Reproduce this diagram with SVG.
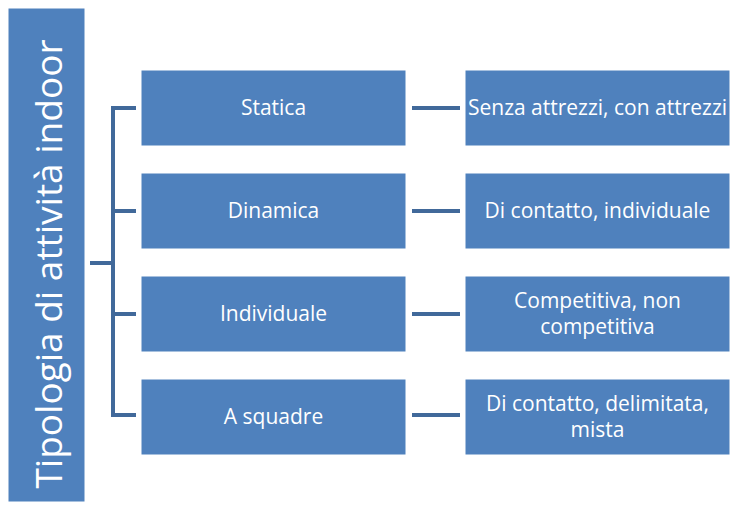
<svg xmlns="http://www.w3.org/2000/svg" width="733" height="515" viewBox="0 0 733 515">
<style>
.box{fill:#4f81bd;stroke:#ffffff;stroke-width:1}
.t{fill:#ffffff;font-family:"Open Sans","Liberation Sans",Arial,sans-serif;font-size:21px;text-anchor:middle;dominant-baseline:central}
.c{fill:none;stroke:#41699a;stroke-width:4}
</style>
<rect width="733" height="515" fill="#ffffff"/>
<g id="root">
<rect class="box" x="8" y="8" width="77" height="494"/>
<text class="t" transform="translate(47,264) rotate(-90)" style="font-size:37px">Tipologia di attività indoor</text>
</g>
<g id="connectors">
<path class="c" d="M90,263 H113 M136,108 H113 V415 H136 M113,211 H136 M113,314 H136"/>
<path class="c" d="M412,108 H460 M412,211 H460 M412,314 H460 M412,415 H460"/>
</g>
<g id="n1"><rect class="box" x="141" y="70" width="265" height="76"/><text class="t" x="273.5" y="107">Statica</text></g>
<g id="n2"><rect class="box" x="141" y="173" width="265" height="76"/><text class="t" x="273.5" y="210">Dinamica</text></g>
<g id="n3"><rect class="box" x="141" y="276" width="265" height="76"/><text class="t" x="273.5" y="313">Individuale</text></g>
<g id="n4"><rect class="box" x="141" y="379" width="265" height="76"/><text class="t" x="273.5" y="416">A squadre</text></g>
<g id="d1"><rect class="box" x="465" y="70" width="265" height="76"/><text class="t" x="597.5" y="107">Senza attrezzi, con attrezzi</text></g>
<g id="d2"><rect class="box" x="465" y="173" width="265" height="76"/><text class="t" x="597.5" y="210">Di contatto, individuale</text></g>
<g id="d3"><rect class="box" x="465" y="276" width="265" height="76"/><text class="t" x="597.5" y="300">Competitiva, non</text><text class="t" x="597.5" y="326">competitiva</text></g>
<g id="d4"><rect class="box" x="465" y="379" width="265" height="76"/><text class="t" x="597.5" y="403">Di contatto, delimitata,</text><text class="t" x="597.5" y="429">mista</text></g>
</svg>
